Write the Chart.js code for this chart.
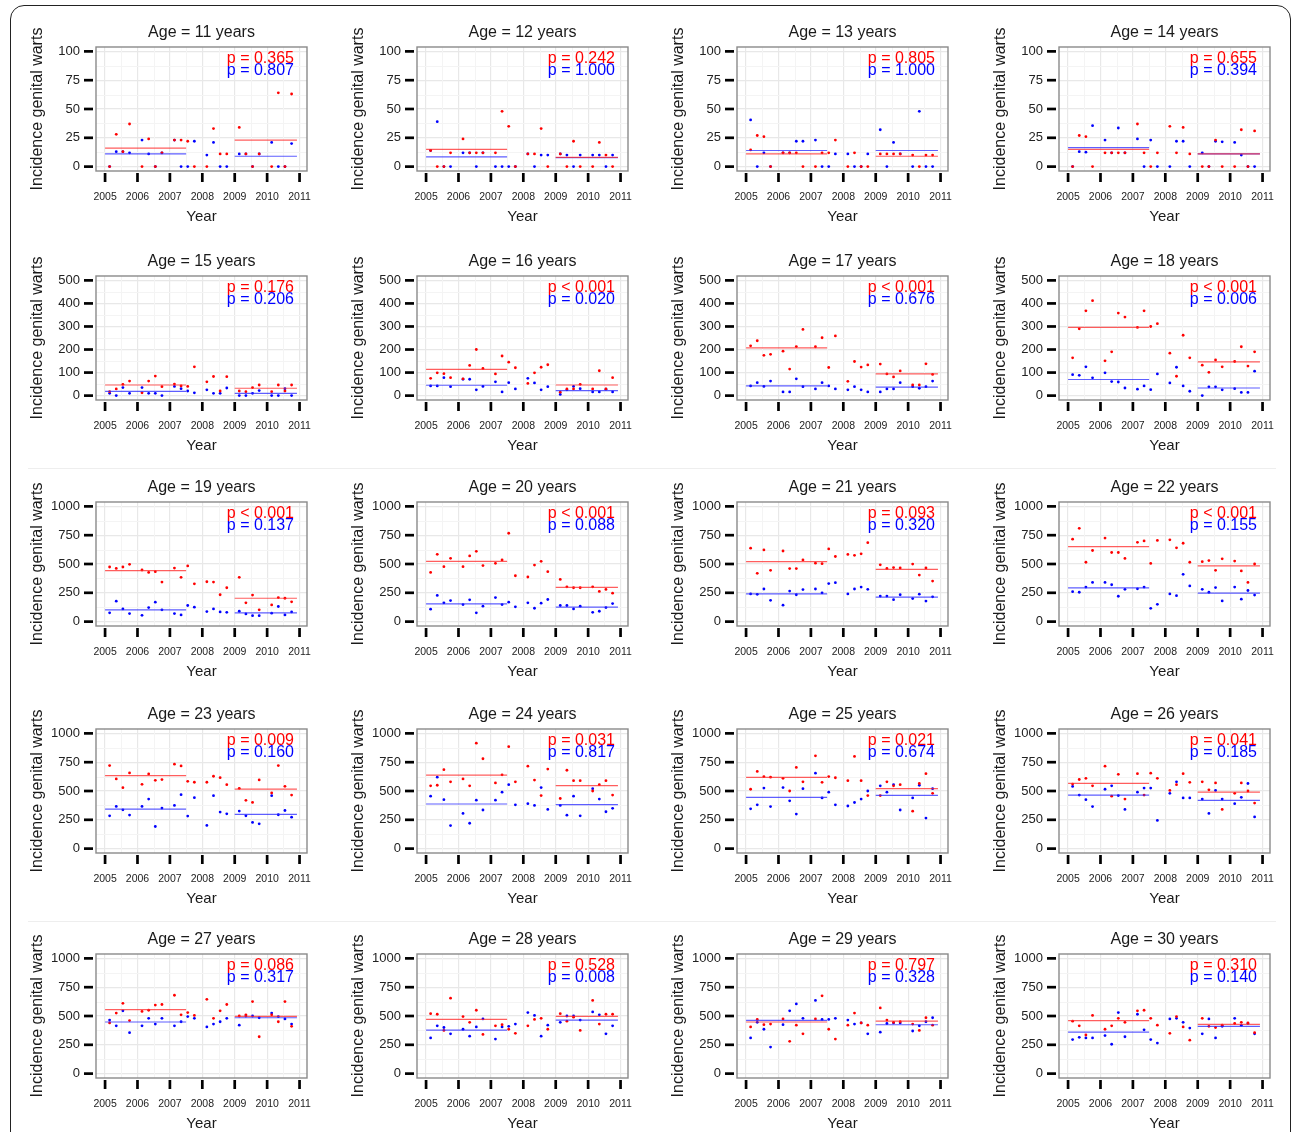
<!DOCTYPE html>
<html>
<head>
<meta charset="utf-8">
<title>Incidence genital warts by age</title>
<script src="https://cdn.jsdelivr.net/npm/chart.js@4.4.1/dist/chart.umd.min.js"></script>
<style>
  body { margin: 0; background: #fff; }
  #figure { position: relative; width: 1292px; height: 1132px; overflow: hidden; background: #fff; }
  #frame { position: absolute; left: 10px; top: 5px; width: 1279px; height: 1160px; border: 1.5px solid #222; border-radius: 14px; }
  .sep { position: absolute; left: 28px; width: 1248px; height: 1px; background: #eeeeee; }
  canvas { position: absolute; }
</style>
</head>
<body>
<div id="figure">
  <div id="frame"></div>
  <div class="sep" style="top:468px"></div>
  <div class="sep" style="top:921px"></div>
</div>
<script>
'use strict';

//axes
const ages = [11, 12, 13, 14, 15, 16, 17, 18, 19, 20, 21, 22, 23, 24, 25, 26, 27, 28, 29, 30];
const years = [2005, 2006, 2007, 2008, 2009, 2010];
const quarterOffsets = [0.14, 0.345, 0.55, 0.755];
const xTicks = [2005, 2006, 2007, 2008, 2009, 2010, 2011];
const yTicksSmall = [0, 25, 50, 75, 100];
const yTicksMid = [0, 100, 200, 300, 400, 500];
const yTicksBig = [0, 250, 500, 750, 1000];
const preSpan = [2005, 2007.5];
const postSpan = [2009, 2010.92];

//quarterly incidence, red group / blue group
const red11 = [0, 28, 13, 37, 0, 24, 0, 12, 23, 23, 22, 0, 0, 33, 11, 11, 34, 11, 0, 11, 0, 64, 0, 63];
const blue11 = [0, 13, 13, 12, 23, 11, 0, 12, 23, 0, 0, 22, 10, 21, 0, 0, 11, 11, 0, 11, 21, 0, 0, 20];
const red12 = [14, 0, 0, 12, 24, 12, 12, 12, 12, 48, 35, 0, 11, 11, 33, 0, 11, 0, 22, 0, 0, 21, 10, 0];
const blue12 = [14, 39, 0, 0, 12, 12, 0, 12, 0, 0, 0, 0, 11, 0, 10, 10, 11, 10, 0, 10, 10, 10, 0, 10];
const red13 = [14.5, 27, 26, 0, 12, 12, 12, 0, 0, 12, 12, 23, 0, 12, 0, 0, 11, 11, 11, 11, 10, 0, 10, 10];
const blue13 = [40.5, 0, 12, 0, 12, 12, 22, 22, 23, 0, 0, 11, 11, 0, 0, 11, 32, 0, 21, 11, 0, 48, 0, 0];
const red14 = [0, 27, 26, 0, 12, 12, 12, 12, 37, 12, 0, 12, 35, 12, 34, 11, 0, 0, 23, 0, 0, 32, 0, 31];
const blue14 = [0, 13, 12.5, 35.5, 23, 12, 33.5, 12, 24, 0, 23, 0, 0, 22, 22, 0, 12, 0, 22, 21.5, 21, 10, 0, 0];
const red15 = [17, 29, 49, 63, 12, 63, 85, 39, 50, 42, 40, 125, 60, 83, 20, 82, 20, 17, 35, 46, 17, 46, 20, 46];
const blue15 = [10, 0, 35, 10, 35, 10, 10, 0, 40, 30, 20, 12, 25, 10, 10, 33, 0, 0, 10, 22, 0, 0, 30, 0];
const red16 = [75, 99, 95, 78, 73, 131, 200, 118, 94, 172, 145, 121, 53, 99, 123, 134, 15, 29, 29, 49, 29, 108, 29, 78];
const blue16 = [42, 42, 78, 39, 71, 71, 25, 40, 60, 16, 56, 29, 75, 55, 25, 39, 5, 25, 40, 30, 16, 16, 28, 16];
const red17 = [216, 238, 175, 179, 193, 115, 213, 287, 212, 251, 122, 259, 62, 148, 124, 133, 137, 94, 81, 107, 46, 46, 138, 92];
const blue17 = [42, 56, 40, 63, 16, 16, 73, 39, 29, 56, 42, 29, 25, 39, 25, 16, 16, 29, 29, 56, 39, 32, 39, 63];
const red18 = [164, 290, 368, 412, 151, 190, 358, 341, 296, 368, 300, 312, 184, 84, 262, 164, 132, 101, 155, 125, 148, 212, 128, 190];
const blue18 = [91, 88, 125, 77, 99, 61, 59, 33, 28, 42, 26, 94, 55, 123, 42, 19, 0, 38, 38, 25, 30, 14, 14, 106];
const red19 = [474, 462, 474, 497, 448, 427, 433, 343, 465, 384, 483, 328, 346, 343, 233, 294, 384, 163, 230, 102, 145, 209, 203, 172];
const blue19 = [76, 177, 110, 70, 55, 122, 169, 102, 70, 58, 140, 125, 87, 110, 84, 81, 90, 67, 52, 52, 73, 131, 58, 84];
const red20 = [427, 584, 477, 549, 477, 570, 610, 486, 506, 535, 767, 398, 387, 491, 523, 433, 366, 302, 294, 294, 302, 262, 279, 247];
const blue20 = [108, 227, 163, 183, 148, 189, 76, 134, 209, 148, 169, 128, 163, 116, 160, 192, 140, 140, 110, 134, 81, 90, 122, 157];
const red21 = [637, 419, 622, 445, 613, 460, 460, 535, 507, 503, 631, 565, 583, 575, 588, 685, 493, 462, 469, 466, 499, 404, 466, 352];
const blue21 = [240, 237, 283, 185, 143, 265, 233, 278, 283, 250, 330, 338, 240, 283, 300, 280, 222, 222, 190, 233, 200, 238, 178, 215];
const red22 = [715, 810, 515, 617, 725, 600, 600, 548, 688, 700, 505, 705, 710, 640, 680, 515, 520, 530, 445, 545, 525, 440, 340, 500];
const blue22 = [260, 255, 300, 340, 340, 320, 220, 280, 285, 300, 115, 150, 240, 225, 410, 310, 280, 255, 295, 180, 300, 195, 270, 230];
const red23 = [721, 605, 529, 657, 558, 648, 593, 599, 733, 718, 584, 576, 576, 628, 616, 555, 523, 419, 401, 596, 483, 721, 541, 465];
const blue23 = [285, 366, 337, 291, 366, 430, 192, 352, 375, 468, 282, 442, 201, 459, 317, 302, 326, 285, 227, 215, 459, 294, 331, 273];
const red24 = [545, 550, 685, 580, 605, 545, 915, 780, 570, 640, 885, 580, 715, 595, 460, 690, 435, 680, 590, 590, 500, 555, 590, 465];
const blue24 = [455, 620, 425, 200, 305, 220, 420, 335, 420, 490, 555, 380, 390, 375, 530, 340, 375, 290, 455, 285, 520, 430, 320, 350];
const red25 = [515, 670, 625, 620, 610, 500, 705, 580, 805, 575, 625, 615, 590, 800, 590, 460, 460, 580, 545, 555, 325, 565, 650, 480];
const blue25 = [345, 380, 525, 365, 530, 415, 300, 520, 655, 440, 490, 380, 370, 400, 430, 500, 545, 490, 555, 335, 440, 550, 265, 520];
const red26 = [560, 600, 610, 545, 715, 455, 645, 430, 650, 465, 655, 610, 505, 555, 650, 575, 580, 510, 570, 340, 480, 570, 500, 395];
const blue26 = [540, 465, 425, 365, 515, 545, 460, 340, 490, 525, 525, 245, 480, 580, 440, 440, 430, 305, 505, 430, 390, 445, 565, 275];
const red27 = [440, 525, 610, 460, 540, 550, 595, 600, 680, 510, 530, 505, 645, 480, 545, 600, 500, 510, 625, 320, 510, 450, 625, 410];
const blue27 = [465, 415, 545, 355, 415, 480, 430, 480, 415, 450, 495, 480, 405, 430, 450, 480, 420, 500, 500, 485, 525, 495, 475, 430];
const red28 = [520, 515, 375, 655, 495, 445, 550, 340, 415, 425, 385, 350, 415, 470, 480, 385, 520, 455, 490, 375, 635, 430, 515, 515];
const blue28 = [310, 415, 400, 345, 385, 325, 405, 475, 300, 405, 410, 430, 530, 505, 325, 420, 445, 500, 500, 465, 535, 510, 345, 415];
const red29 = [405, 470, 425, 430, 475, 280, 420, 345, 475, 675, 385, 300, 420, 525, 440, 420, 570, 465, 445, 450, 430, 375, 485, 420];
const blue29 = [310, 445, 385, 230, 425, 545, 605, 480, 635, 470, 470, 480, 465, 430, 440, 345, 360, 435, 440, 440, 370, 415, 450, 485];
const red30 = [455, 415, 335, 505, 385, 415, 480, 445, 545, 550, 480, 420, 350, 495, 405, 290, 480, 410, 400, 420, 435, 445, 440, 355];
const blue30 = [295, 315, 310, 310, 330, 255, 530, 320, 515, 380, 295, 265, 475, 480, 445, 395, 345, 475, 310, 410, 480, 420, 435, 345];

//period means (horizontal lines) and p-values, one entry per age
const redPre = [16, 15, 11, 15, 46, 114, 207, 296, 442, 522, 520, 651, 634, 637, 619, 567, 555, 471, 448, 459];
const redPost = [23, 8, 9, 11, 32, 46, 94, 146, 203, 297, 453, 483, 517, 547, 520, 491, 497, 497, 456, 427];
const bluePre = [11, 8.4, 14, 16.5, 18, 45, 42, 70, 102, 154, 241, 293, 343, 387, 445, 465, 448, 378, 462, 360];
const bluePost = [9, 7.8, 14, 11, 10, 22, 37, 33, 76, 125, 212, 247, 297, 381, 462, 419, 485, 465, 424, 410];
const pRed = ['p = 0.365', 'p = 0.242', 'p = 0.805', 'p = 0.655', 'p = 0.176', 'p < 0.001', 'p < 0.001', 'p < 0.001', 'p < 0.001', 'p < 0.001',
  'p = 0.093', 'p < 0.001', 'p = 0.009', 'p = 0.031', 'p = 0.021', 'p = 0.041', 'p = 0.086', 'p = 0.528', 'p = 0.797', 'p = 0.310'];
const pBlue = ['p = 0.807', 'p = 1.000', 'p = 1.000', 'p = 0.394', 'p = 0.206', 'p = 0.020', 'p = 0.676', 'p = 0.006', 'p = 0.137', 'p = 0.088',
  'p = 0.320', 'p = 0.155', 'p = 0.160', 'p = 0.817', 'p = 0.674', 'p = 0.185', 'p = 0.317', 'p = 0.008', 'p = 0.328', 'p = 0.140'];

const redSeries = [red11, red12, red13, red14, red15, red16, red17, red18, red19, red20,
  red21, red22, red23, red24, red25, red26, red27, red28, red29, red30];
const blueSeries = [blue11, blue12, blue13, blue14, blue15, blue16, blue17, blue18, blue19, blue20,
  blue21, blue22, blue23, blue24, blue25, blue26, blue27, blue28, blue29, blue30];
const rowTicks = [yTicksSmall, yTicksMid, yTicksBig, yTicksBig, yTicksBig];

//----------------

const FONT = '"Liberation Sans", Arial, Helvetica, sans-serif';
const COL_LEFT = [20, 341, 661, 983];
const ROW_TOP = [15, 244, 470, 697, 922];
const W = 320, H = 227;

const quarterTimes = years.flatMap(yr => quarterOffsets.map(q => yr + q));

// ggplot-ish bits chart.js lacks: minor grid, grey panel box, outside ticks, titles
const panelDecor = {
  id: 'panelDecor',
  beforeDatasetsDraw(chart) {
    const { ctx, chartArea: a, scales: { x, y } } = chart;
    ctx.save();
    ctx.strokeStyle = '#f4f4f4';
    ctx.lineWidth = 1;
    const xs = xTicks, ys = chart.options.rowTicks;
    for (let k = 0; k < xs.length - 1; k++) {
      const px = Math.round(x.getPixelForValue((xs[k] + xs[k + 1]) / 2)) + 0.5;
      ctx.beginPath(); ctx.moveTo(px, a.top); ctx.lineTo(px, a.bottom); ctx.stroke();
    }
    for (let k = 0; k < ys.length - 1; k++) {
      const py = Math.round(y.getPixelForValue((ys[k] + ys[k + 1]) / 2)) + 0.5;
      ctx.beginPath(); ctx.moveTo(a.left, py); ctx.lineTo(a.right, py); ctx.stroke();
    }
    ctx.restore();
  },
  afterDraw(chart) {
    const { ctx, chartArea: a, scales: { x, y } } = chart;
    const i = chart.options.panelIndex;
    ctx.save();
    // panel border
    ctx.strokeStyle = '#8a8a8a';
    ctx.lineWidth = 1.4;
    ctx.strokeRect(a.left, a.top, a.right - a.left, a.bottom - a.top);
    // tick marks, sitting just off the panel
    ctx.strokeStyle = '#000';
    ctx.lineWidth = 2.7;
    xTicks.forEach(v => {
      const px = x.getPixelForValue(v);
      ctx.beginPath(); ctx.moveTo(px, a.bottom + 2); ctx.lineTo(px, a.bottom + 11); ctx.stroke();
    });
    chart.options.rowTicks.forEach(v => {
      const py = y.getPixelForValue(v);
      ctx.beginPath(); ctx.moveTo(a.left - 12, py); ctx.lineTo(a.left - 3, py); ctx.stroke();
    });
    // panel title
    ctx.fillStyle = '#1a1a1a';
    ctx.font = '16px ' + FONT;
    ctx.textAlign = 'center';
    ctx.textBaseline = 'middle';
    ctx.fillText('Age = ' + ages[i] + ' years', (a.left + a.right) / 2, a.top - 14);
    // p-values
    ctx.textAlign = 'right';
    ctx.fillStyle = '#ff0000';
    ctx.fillText(pRed[i], a.right - 13, a.top + 12);
    ctx.fillStyle = '#0000ff';
    ctx.fillText(pBlue[i], a.right - 13, a.top + 24);
    ctx.restore();
  }
};

function meanLine(span, value, color) {
  return {
    type: 'line',
    data: [{ x: span[0], y: value }, { x: span[1], y: value }],
    borderColor: color,
    borderWidth: 1.2,
    pointRadius: 0,
    showLine: true,
    fill: false
  };
}

function points(series, color) {
  return {
    type: 'scatter',
    data: series.map((v, j) => ({ x: quarterTimes[j], y: v })),
    backgroundColor: color,
    borderWidth: 0,
    pointRadius: 1.4
  };
}

const figure = document.getElementById('figure');

ages.forEach((age, i) => {
  const row = Math.floor(i / 4), col = i % 4;
  const ticks = rowTicks[row];
  const span = ticks[ticks.length - 1] - ticks[0];
  const pad = span * 0.038;

  const canvas = document.createElement('canvas');
  canvas.width = W;
  canvas.height = H;
  canvas.style.left = COL_LEFT[col] + 'px';
  canvas.style.top = ROW_TOP[row] + 'px';
  canvas.style.width = W + 'px';
  canvas.style.height = H + 'px';
  figure.appendChild(canvas);

  new Chart(canvas, {
    type: 'scatter',
    data: {
      datasets: [
        meanLine(preSpan, redPre[i], 'rgba(255,40,40,0.75)'),
        meanLine(postSpan, redPost[i], 'rgba(255,40,40,0.75)'),
        meanLine(preSpan, bluePre[i], 'rgba(40,40,255,0.75)'),
        meanLine(postSpan, bluePost[i], 'rgba(40,40,255,0.75)'),
        points(redSeries[i], '#ff0000'),
        points(blueSeries[i], '#0000ff')
      ]
    },
    options: {
      panelIndex: i,
      rowTicks: ticks,
      responsive: false,
      animation: false,
      devicePixelRatio: 1,
      layout: { padding: { top: 32, right: 33, left: 0, bottom: 0 } },
      plugins: { legend: { display: false }, tooltip: { enabled: false }, title: { display: false } },
      scales: {
        x: {
          type: 'linear',
          min: 2004.72,
          max: 2011.23,
          afterBuildTicks: s => { s.ticks = xTicks.map(v => ({ value: v })); },
          afterFit: s => { s.height = 71; },
          grid: { color: '#e8e8e8', lineWidth: 1.2, drawTicks: false },
          border: { display: false },
          ticks: {
            padding: 20, color: '#222', maxRotation: 0, autoSkip: false,
            font: { size: 10.5, family: FONT },
            callback: v => String(v)
          },
          title: { display: true, text: 'Year', color: '#1a1a1a', font: { size: 15, family: FONT }, padding: { top: 0, bottom: 16 } }
        },
        y: {
          type: 'linear',
          min: ticks[0] - pad,
          max: ticks[ticks.length - 1] + pad,
          afterBuildTicks: s => { s.ticks = ticks.map(v => ({ value: v })); },
          afterFit: s => { s.width = 76; },
          grid: { color: '#e8e8e8', lineWidth: 1.2, drawTicks: false },
          border: { display: false },
          ticks: {
            padding: 16, color: '#222', autoSkip: false,
            font: { size: 13, family: FONT },
            callback: v => String(v)
          },
          title: { display: true, text: 'Incidence genital warts', color: '#1a1a1a', font: { size: 16, family: FONT }, padding: { top: 8, bottom: 0 } }
        }
      }
    },
    plugins: [panelDecor]
  });
});
</script>
</body>
</html>
